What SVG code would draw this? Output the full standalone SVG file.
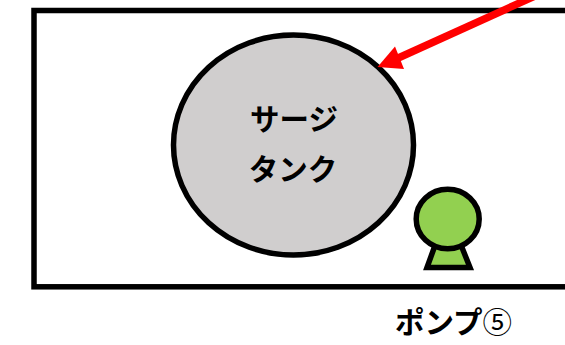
<svg xmlns="http://www.w3.org/2000/svg" width="565" height="345" viewBox="0 0 565 345">
<style>
.o{stroke:#000;stroke-width:5.5}
.t{font-family:"Noto Sans CJK JP","Noto Sans",sans-serif;font-weight:700;fill:#000;text-anchor:middle}
</style>
<rect width="565" height="345" fill="#fff"/>
<g id="room"><rect class="o" x="34" y="10.5" width="560" height="276.3" fill="none"/></g>
<g id="surge-tank">
<ellipse class="o" cx="293.5" cy="145" rx="120" ry="110" fill="#d0cece"/>
<text class="t" x="294" y="130" font-size="29.5">サージ</text>
<text class="t" x="293" y="180" font-size="29.5">タンク</text>
</g>
<g id="pump">
<path class="o" d="M437 240 L427 267.5 H470 L459 240 Z" fill="#92d050"/>
<ellipse class="o" cx="447.7" cy="219" rx="31.5" ry="29.8" fill="#92d050"/>
<text class="t" x="453.5" y="333" font-size="29.5">ポンプ<tspan font-weight="400">⑤</tspan></text>
</g>
<g id="connectors">
<path d="M535 -4 L396 59" stroke="#f00" stroke-width="7.5" fill="none"/>
<path d="M377.5 67 L395 46.5 L404 69 Z" fill="#f00"/>
</g>
</svg>
